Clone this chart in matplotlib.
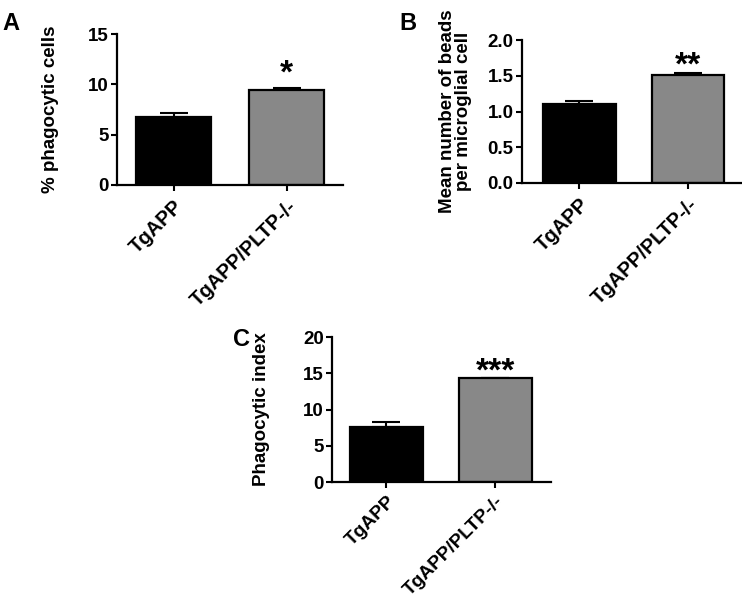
import matplotlib
matplotlib.use("Agg")
import matplotlib.pyplot as plt

plt.rcParams['font.family'] = ['Liberation Sans', 'DejaVu Sans']
plt.rcParams['font.weight'] = 'bold'

groups = ["TgAPP", "TgAPP/PLTP-/-"]
colors = ["#000000", "#888888"]

pct_vals = [6.75, 9.45]
pct_err = [0.4, 0.15]
beads_vals = [1.10, 1.51]
beads_err = [0.045, 0.03]
index_vals = [7.55, 14.3]
index_err = [0.75, 0.1]

panels = [
    dict(letter="A", pos=[0.1577, 0.6912, 0.3046, 0.252], vals=pct_vals, err=pct_err,
         ylim=(0, 15), yticks=[0, 5, 10, 15], yfmt="{:g}", ylabel="% phagocytic cells",
         labelpad=20.5, star="*", star_off=4, xlim=(-0.5, 1.5), letter_xy=(0.003, 0.961),
         xfs=14.5, xpad=4),
    dict(letter="B", pos=[0.7035, 0.6945, 0.2965, 0.2387], vals=beads_vals, err=beads_err,
         ylim=(0, 2.0), yticks=[0, 0.5, 1.0, 1.5, 2.0], yfmt="{:.1f}",
         ylabel="Mean number of beads\nper microglial cell", labelpad=11.5,
         star="**", star_off=-1, xlim=(-0.53, 1.5), letter_xy=(0.538, 0.961),
         xfs=14.5, xpad=4),
    dict(letter="C", pos=[0.4474, 0.1953, 0.295, 0.242], vals=index_vals, err=index_err,
         ylim=(0, 20), yticks=[0, 5, 10, 15, 20], yfmt="{:g}", ylabel="Phagocytic index",
         labelpad=24, star="***", star_off=-2, xlim=(-0.5, 1.51), letter_xy=(0.314, 0.433),
         xfs=13.8, xpad=3),
]

fig = plt.figure(figsize=(7.42, 5.99), dpi=100)

for p in panels:
    ax = fig.add_axes(p["pos"])
    x = [0, 1]
    ax.errorbar(x, p["vals"], yerr=[[0, 0], p["err"]], fmt="none", ecolor="black",
                elinewidth=1.5, capsize=10, capthick=1.5, zorder=1)
    ax.bar(x, p["vals"], width=0.67, color=colors, edgecolor="black", linewidth=1.6, zorder=2)
    ax.set_xlim(*p["xlim"])
    ax.set_ylim(*p["ylim"])
    ax.set_yticks(p["yticks"])
    ax.set_yticklabels([p["yfmt"].format(v) for v in p["yticks"]], fontsize=13.5, fontweight="bold")
    ax.set_xticks(x)
    ax.set_xticklabels(groups, rotation=45, ha="right", rotation_mode="anchor",
                       fontsize=p["xfs"], fontweight="bold")
    ax.tick_params(axis="both", direction="out", length=4.5, width=1.5, pad=1.5)
    ax.tick_params(axis="x", pad=p["xpad"])
    for s in ["top", "right"]:
        ax.spines[s].set_visible(False)
    for s in ["left", "bottom"]:
        ax.spines[s].set_linewidth(1.6)
    ax.set_ylabel(p["ylabel"], fontsize=13.5, fontweight="bold", linespacing=0.9,
                  labelpad=p["labelpad"])
    top = p["vals"][1] + p["err"][1]
    ax.annotate(p["star"], xy=(1, top), xytext=(0, p["star_off"]), textcoords="offset points",
                ha="center", va="baseline", fontsize=24, fontweight="bold")
    fig.text(p["letter_xy"][0], p["letter_xy"][1], p["letter"], fontsize=17,
             fontweight="bold", ha="left", va="center")

fig.savefig("out.png", dpi=100)
